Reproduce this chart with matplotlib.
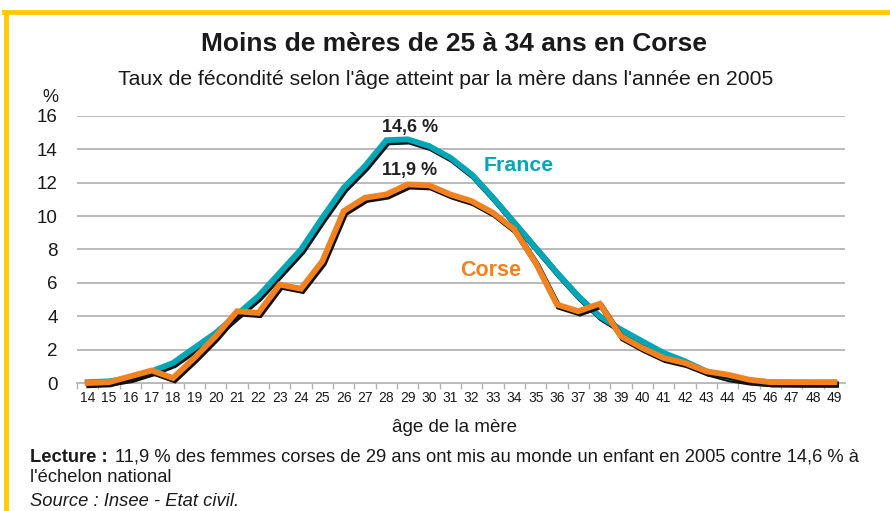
import matplotlib
matplotlib.use("Agg")
import matplotlib.pyplot as plt
import matplotlib.patheffects as pe
from matplotlib.lines import Line2D

AGES = list(range(14, 50))

FRANCE = [0.05, 0.1, 0.3, 0.7, 1.2, 2.1, 3.0, 4.1, 5.2, 6.6, 8.0, 9.9,
          11.7, 13.0, 14.55, 14.6, 14.2, 13.5, 12.5, 11.1, 9.6, 8.1, 6.6,
          5.2, 4.0, 3.2, 2.5, 1.8, 1.3, 0.7, 0.35, 0.15, 0.05, 0.03, 0.02, 0.02]

CORSE = [0.0, 0.05, 0.4, 0.75, 0.3, 1.5, 2.8, 4.3, 4.2, 5.9, 5.65, 7.3,
         10.3, 11.1, 11.3, 11.9, 11.85, 11.3, 10.9, 10.2, 9.2, 7.2, 4.7,
         4.3, 4.75, 2.8, 2.1, 1.5, 1.2, 0.7, 0.5, 0.2, 0.05, 0.05, 0.05, 0.05]

Y_TICKS = [0, 2, 4, 6, 8, 10, 12, 14, 16]

TEAL = "#00A6B6"
ORANGE = "#F2821F"
YELLOW = "#FFCC00"
GRID = "#B4B4B4"
INK = "#1a1a1a"
SANS = "Liberation Sans"

plt.rcParams["font.family"] = ["Liberation Sans Narrow", "Liberation Sans", "DejaVu Sans"]

fig = plt.figure(figsize=(8.9, 5.11), dpi=100)
ax = fig.add_axes([77 / 890, 1 - 383 / 511, 768 / 890, 267 / 511])

shadow = [pe.SimpleLineShadow(offset=(1.2, -1.6), shadow_color="#111111", alpha=1.0),
          pe.Normal()]

ax.plot(AGES, FRANCE, color=TEAL, linewidth=4.2, solid_joinstyle="miter",
        path_effects=shadow, clip_on=False, zorder=3)
ax.plot(AGES, CORSE, color=ORANGE, linewidth=4.2, solid_joinstyle="miter",
        path_effects=shadow, clip_on=False, zorder=4)

ax.set_xlim(13.5, 49.5)
ax.set_ylim(0, 16)
ax.set_yticks(Y_TICKS)
ax.set_yticklabels([str(v) for v in Y_TICKS], fontsize=13.5, family=SANS, color=INK)
ax.set_xticks(AGES)
ax.set_xticklabels([str(a) for a in AGES], fontsize=10, color=INK)
ax.set_xticks([a + 0.5 for a in AGES[:-1]] + [13.5], minor=True)
ax.tick_params(axis="x", which="major", length=0, pad=6)
ax.tick_params(axis="x", which="minor", length=4, color=GRID, width=1)
ax.tick_params(axis="y", length=0, pad=14)

for v in Y_TICKS[1:]:
    ax.axhline(v, color=GRID, linewidth=1.3, zorder=1)
for side in ["top", "right", "left"]:
    ax.spines[side].set_visible(False)
ax.spines["bottom"].set_color(GRID)
ax.spines["bottom"].set_linewidth(1.3)

ax.text(29.1, 15.3, "14,6 %", ha="center", va="center", fontsize=13,
        fontweight="bold", color="#222222", family=SANS)
ax.text(29.1, 12.75, "11,9 %", ha="center", va="center", fontsize=13,
        fontweight="bold", color="#222222", family=SANS)
ax.text(34.2, 13.05, "France", ha="center", va="center", fontsize=15.3,
        fontweight="bold", color=TEAL, family=SANS)
ax.text(32.9, 6.75, "Corse", ha="center", va="center", fontsize=15.5,
        fontweight="bold", color=ORANGE, family=SANS)

fig.text(454 / 890, 1 - 44 / 511, "Moins de mères de 25 à 34 ans en Corse",
         ha="center", va="center", fontsize=19, fontweight="bold", color=INK, family=SANS)
fig.text(446 / 890, 1 - 79 / 511,
         "Taux de fécondité selon l'âge atteint par la mère dans l'année en 2005",
         ha="center", va="center", fontsize=15.2, color=INK, family=SANS)
fig.text(50 / 890, 1 - 98 / 511, "%", ha="center", va="center", fontsize=13,
         color=INK, family=SANS)
fig.text(455 / 890, 1 - 427 / 511, "âge de la mère", ha="center", va="center",
         fontsize=13.5, color=INK, family=SANS)

fig.text(30 / 890, 1 - 457 / 511, "Lecture :", ha="left", va="center",
         fontsize=13.2, fontweight="bold", color=INK, family=SANS)
fig.text(115 / 890, 1 - 457 / 511,
         "11,9 % des femmes corses de 29 ans ont mis au monde un enfant en 2005 contre 14,6 % à",
         ha="left", va="center", fontsize=13.2, color=INK, family=SANS)
fig.text(30 / 890, 1 - 478 / 511, "l'échelon national", ha="left", va="center",
         fontsize=13.2, color=INK, family=SANS)
fig.text(30 / 890, 1 - 501 / 511, "Source : Insee - Etat civil.", ha="left", va="center",
         fontsize=13.2, style="italic", color=INK, family=SANS)

# yellow frame (top and left edges)
fig.add_artist(Line2D([4 / 890, 1], [1 - 12 / 511, 1 - 12 / 511], color=YELLOW,
                      linewidth=3.5, transform=fig.transFigure))
fig.add_artist(Line2D([6 / 890, 6 / 890], [0, 1 - 12 / 511], color=YELLOW,
                      linewidth=3.5, transform=fig.transFigure))

fig.savefig("out.png", dpi=100)
